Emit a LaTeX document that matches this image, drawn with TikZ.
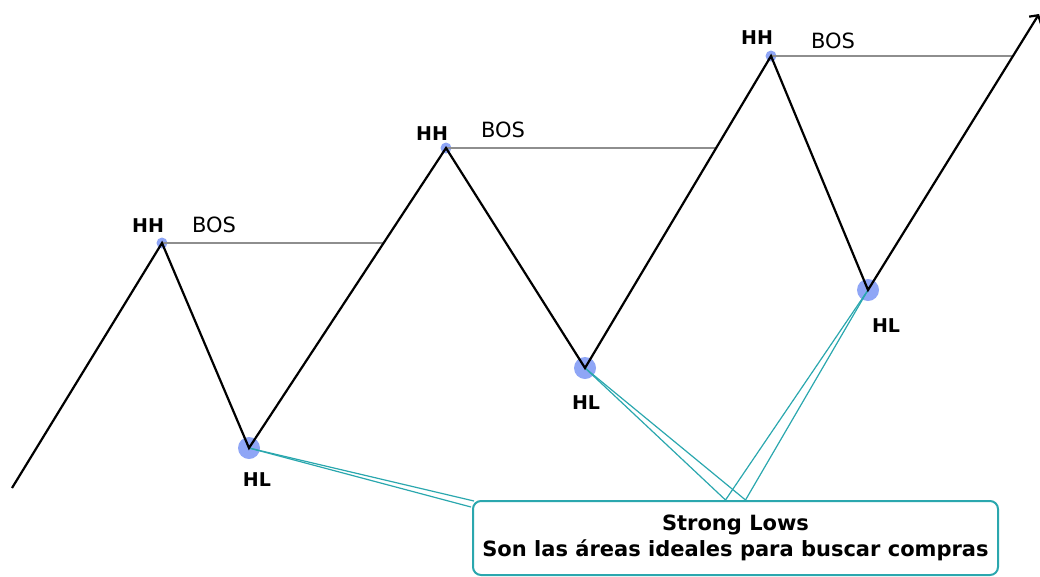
\documentclass[tikz,border=0pt]{standalone}
\usepackage{fontspec}
\setmainfont{DejaVu Sans}
\usetikzlibrary{arrows.meta,positioning}

\definecolor{dotblue}{HTML}{7B96F4}
\definecolor{linkteal}{HTML}{2AA7AE}
\definecolor{bosgray}{HTML}{8E8E8E}

\tikzset{
	swing/.style={line width=2.2pt, black, line join=miter},
	bosline/.style={line width=2pt, bosgray},
	link/.style={line width=1.2pt, linkteal},
	hhdot/.style={circle, fill=dotblue, fill opacity=0.85, inner sep=0pt, minimum size=11pt},
	hldot/.style={circle, fill=dotblue, fill opacity=0.85, inner sep=0pt, minimum size=22pt},
	tag/.style={font=\fontsize{19}{21}\selectfont\bfseries, inner sep=0pt},
	bostag/.style={font=\fontsize{21}{23}\selectfont, inner sep=0pt},
	notebox/.style={draw=linkteal, line width=2pt, rounded corners=8pt, fill=white,
		minimum width=525pt, minimum height=74pt, align=center, inner sep=0pt,
		font=\fontsize{21}{25.5}\selectfont\bfseries}
}

\begin{document}
\begin{tikzpicture}[x=1pt, y=-1pt]
	\useasboundingbox (0,0) rectangle (1040,576);
	% swing points
	\coordinate (s) at (12,488);
	\coordinate (e) at (1039,14);
	\node[hhdot] (hh1) at (162,243) {};
	\node[hldot] (hl1) at (249,448) {};
	\node[hhdot] (hh2) at (446,148) {};
	\node[hldot] (hl2) at (585,368) {};
	\node[hhdot] (hh3) at (771,56) {};
	\node[hldot] (hl3) at (868,290) {};
	% note box
	\node[notebox] (note) at (735.5,538) {Strong Lows\\Son las áreas ideales para buscar compras};
	\draw[link] (hl1.center) -- ([xshift=2pt,yshift=-1pt]note.north west);
	\draw[link] (hl1.center) -- ([xshift=-1pt,yshift=-7pt]note.north west);
	\draw[link] (hl2.center) -- ([xshift=-10pt]note.north);
	\draw[link] (hl2.center) -- ([xshift=10pt]note.north);
	\draw[link] (hl3.center) -- ([xshift=-10pt]note.north);
	\draw[link] (hl3.center) -- ([xshift=10pt]note.north);
	% break of structure
	\draw[bosline] (hh1.center) -- (383.5,243);
	\draw[bosline] (hh2.center) -- (716,148);
	\draw[bosline] (hh3.center) -- (1012,56);
	% price swings
	\draw[swing, -{Straight Barb[length=6pt, width=14pt]}] (s) -- (hh1.center) -- (hl1.center) -- (hh2.center) -- (hl2.center) -- (hh3.center) -- (hl3.center) -- (e);
	% labels
	\node[tag] (hh1t) at (148,226) {HH};
	\node[tag] (hh2t) at (432,134) {HH};
	\node[tag] (hh3t) at (757,38) {HH};
	\node[bostag] (bos1) at (214,225) {BOS};
	\node[bostag] (bos2) at (503,130) {BOS};
	\node[bostag] (bos3) at (833,41) {BOS};
	\node[tag] (hl1t) at (257,480) {HL};
	\node[tag] (hl2t) at (586,403) {HL};
	\node[tag] (hl3t) at (886,326) {HL};
\end{tikzpicture}
\end{document}
